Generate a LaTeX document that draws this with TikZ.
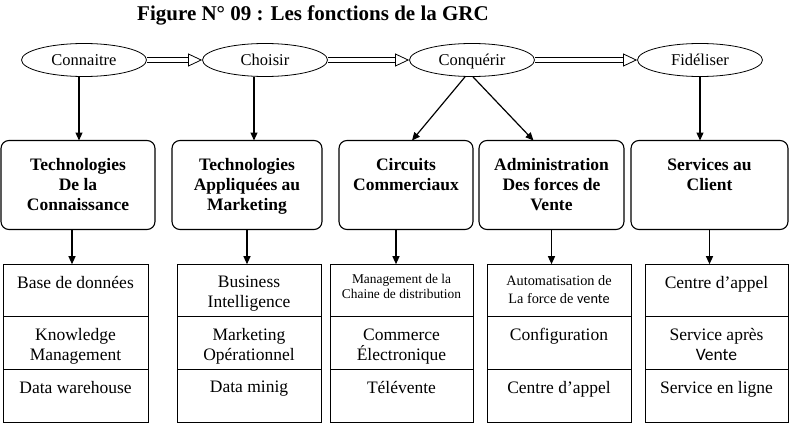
\documentclass[tikz,border=0pt]{standalone}
\usepackage{fontspec}
\setmainfont{Liberation Serif}
\newfontfamily\calibfont{Carlito}
\usepackage{tikz}
\usetikzlibrary{shapes.geometric,arrows.meta,positioning}

\begin{document}
\begin{tikzpicture}[x=1pt,y=-1pt,
        font=\fontsize{17.5}{20}\selectfont,
        phase/.style={draw,ellipse,line width=0.8pt,minimum width=125pt,minimum height=33pt,inner sep=0pt,text height=11.5pt,text depth=0pt,font=\fontsize{16.5}{19}\selectfont},
        axe/.style={draw,rounded corners=8pt,line width=1.1pt,minimum height=89pt,outer sep=0pt},
        axetxt/.style={anchor=north,yshift=-17.5pt,inner sep=0pt,align=center,font=\fontsize{17.5}{20}\selectfont\bfseries},
        outil/.style={draw,line width=1pt,minimum height=52.6pt,outer sep=0pt},
        outtxt/.style={anchor=north,yshift=-11.5pt,inner sep=0pt,align=center},
        petit/.style={outtxt,yshift=2pt,font=\fontsize{13.4}{15}\selectfont},
        moyen/.style={outtxt,yshift=0.5pt,font=\fontsize{14.3}{18}\selectfont},
        suite/.style={double,double distance=4.5pt,line width=0.8pt,-{Triangle[open,length=14pt,width=13pt]}},
        fleche/.style={line width=1.2pt,-{Triangle[length=8pt,width=7pt]}}
      ]
      \useasboundingbox (0,0) rectangle (789,425);
      \node[font=\fontsize{21}{25}\selectfont\bfseries] (titre) at (313,15) {Figure N° 09 : Les fonctions de la GRC};

      % les phases
      \node[phase] (c1) at (84,60) {Connaitre};
      \node[phase] (c2) at (265,60) {Choisir};
      \node[phase] (c3) at (472,60) {Conquérir};
      \node[phase] (c4) at (700,60) {Fidéliser};
      \draw[suite] (c1) -- (c2);
      \draw[suite] (c2) -- (c3);
      \draw[suite] (c3) -- (c4);

      % les familles de technologies
      \node[axe,minimum width=154pt,label={[axetxt]north:{Technologies\\De la\\Connaissance}}] (m1) at (78,185) {};
      \node[axe,minimum width=150pt,label={[axetxt]north:{Technologies\\Appliquées au\\Marketing}}] (m2) at (247,185) {};
      \node[axe,minimum width=134pt,label={[axetxt]north:{Circuits\\Commerciaux}}] (m3) at (406,185) {};
      \node[axe,minimum width=145pt,label={[axetxt]north:{Administration\\Des forces de\\Vente}}] (m4) at (551.5,185) {};
      \node[axe,minimum width=157pt,label={[axetxt]north:{Services au\\Client}}] (m5) at (709.5,185) {};

      \draw[fleche] ([xshift=-5pt]c1.south) -- ([xshift=-5pt]c1.south |- m1.north);
      \draw[fleche] ([xshift=-11pt]c2.south) -- ([xshift=-11pt]c2.south |- m2.north);
      \draw[fleche] ([xshift=-7pt]c3.south) -- ([xshift=6pt]m3.north);
      \draw[fleche] ([xshift=1pt]c3.south) -- ([xshift=-18pt]m4.north);
      \draw[fleche] (c4.south) -- (c4.south |- m5.north);

      % les outils
      \node[outil,minimum width=145pt,label={[outtxt]north:Base de données}] (b1a) at (75.5,290.5) {};
      \node[outil,minimum width=145pt,below=0pt of b1a,label={[outtxt]north:{Knowledge\\Management}}] (b1b) {};
      \node[outil,minimum width=145pt,below=0pt of b1b,label={[outtxt]north:Data warehouse}] (b1c) {};

      \node[outil,minimum width=144pt,label={[outtxt]north:{Business\\Intelligence}}] (b2a) at (249,290.5) {};
      \node[outil,minimum width=144pt,below=0pt of b2a,label={[outtxt]north:{Marketing\\Opérationnel}}] (b2b) {};
      \node[outil,minimum width=144pt,below=0pt of b2b,label={[outtxt]north:Data minig}] (b2c) {};

      \node[outil,minimum width=143pt,label={[petit]north:{Management de la\\Chaine de distribution}}] (b3a) at (401.5,290.5) {};
      \node[outil,minimum width=143pt,below=0pt of b3a,label={[outtxt]north:{Commerce\\Électronique}}] (b3b) {};
      \node[outil,minimum width=143pt,below=0pt of b3b,label={[outtxt]north:Télévente}] (b3c) {};

      \node[outil,minimum width=144pt,label={[moyen]north:{Automatisation de\\La force de {\calibfont vente}}}] (b4a) at (559,290.5) {};
      \node[outil,minimum width=144pt,below=0pt of b4a,label={[outtxt]north:Configuration}] (b4b) {};
      \node[outil,minimum width=144pt,below=0pt of b4b,label={[outtxt]north:Centre d’appel}] (b4c) {};

      \node[outil,minimum width=143pt,label={[outtxt]north:Centre d’appel}] (b5a) at (716.5,290.5) {};
      \node[outil,minimum width=143pt,below=0pt of b5a,label={[outtxt]north:{Service après\\{\calibfont Vente}}}] (b5b) {};
      \node[outil,minimum width=143pt,below=0pt of b5b,label={[outtxt]north:Service en ligne}] (b5c) {};

      \draw[fleche] ([xshift=-6pt]m1.south) -- ([xshift=-6pt]m1.south |- b1a.north);
      \draw[fleche] (m2.south) -- (m2.south |- b2a.north);
      \draw[fleche] ([xshift=-10pt]m3.south) -- ([xshift=-10pt]m3.south |- b3a.north);
      \draw[fleche] (m4.south) -- (m4.south |- b4a.north);
      \draw[fleche] (m5.south) -- (m5.south |- b5a.north);
    \end{tikzpicture}
\end{document}
